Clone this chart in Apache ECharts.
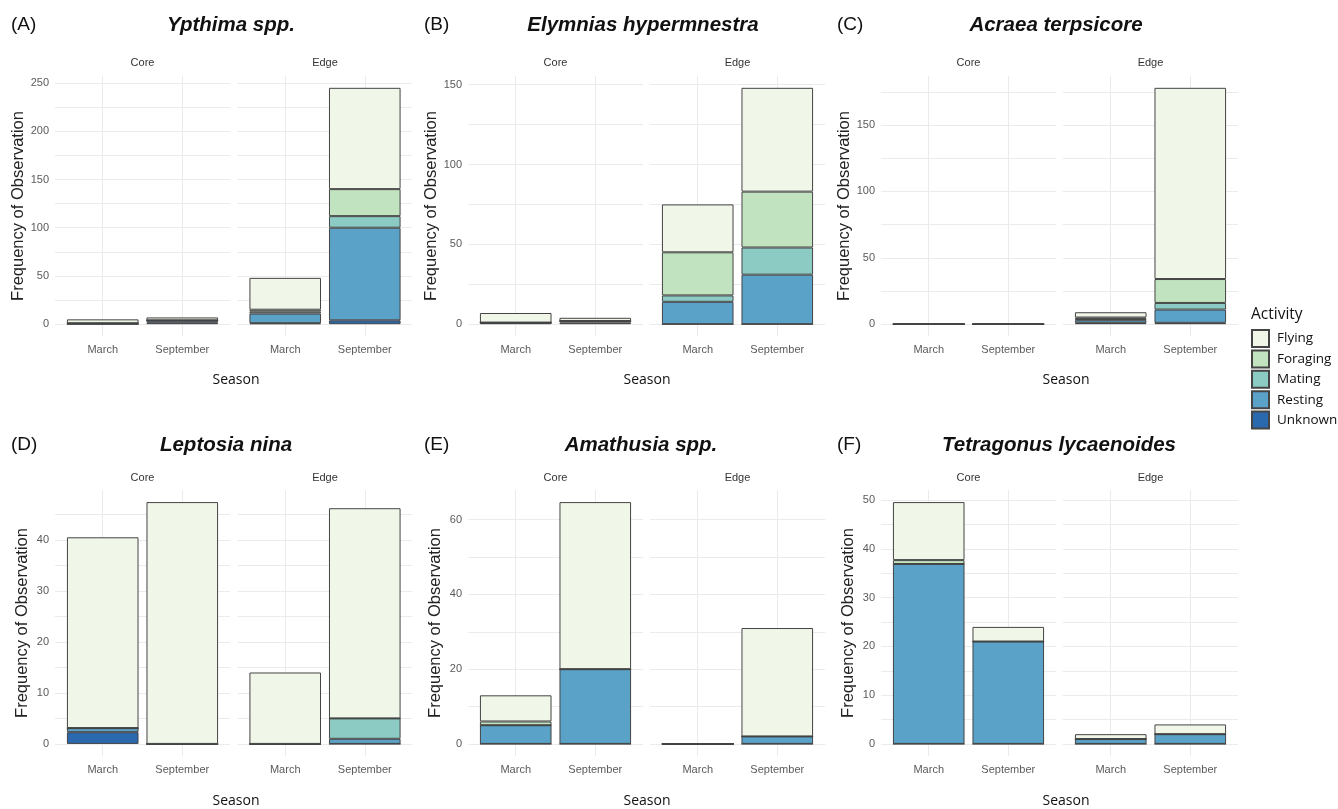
<!DOCTYPE html>
<html>
<head>
<meta charset="utf-8">
<title>Butterfly activity by season and habitat</title>
<script src="https://cdn.jsdelivr.net/npm/echarts@6/dist/echarts.min.js"></script>
<style>
  html, body { margin: 0; padding: 0; background: #fff; }
  #chart { width: 1338px; height: 809px; }
</style>
</head>
<body>
<div id="chart"></div>
<script>
var activities = ['Flying', 'Foraging', 'Mating', 'Resting', 'Unknown'];
var seasons = ['March', 'September'];
var habitats = ['Core', 'Edge'];
var speciesNames = ['Ypthima spp.', 'Elymnias hypermnestra', 'Acraea terpsicore',
    'Leptosia nina', 'Amathusia spp.', 'Tetragonus lycaenoides'];
var panelLetters = ['(A)', '(B)', '(C)', '(D)', '(E)', '(F)'];

// rows follow activities, columns: Core-March, Core-September, Edge-March, Edge-September
var ypthimaCounts = [
    [4, 3, 33, 105],
    [0, 0, 2, 28],
    [0, 0, 2, 12],
    [1, 2, 10, 96],
    [0, 2, 1, 4]
];
var elymniasCounts = [
    [6, 2, 30, 65],
    [0, 0, 27, 35],
    [0, 0, 4, 17],
    [0, 1, 14, 31],
    [1, 1, 0, 0]
];
var acraeaCounts = [
    [0, 0, 4, 144],
    [0, 0, 1, 18],
    [0, 0, 1, 5],
    [0, 0, 2, 10],
    [0, 0, 1, 1]
];
var leptosiaCounts = [
    [37.4, 47.4, 14, 41.2],
    [0, 0, 0, 0],
    [0, 0, 0, 4],
    [0.8, 0, 0, 1],
    [2.3, 0, 0, 0]
];
var amathusiaCounts = [
    [7, 44.7, 0, 29],
    [1, 0, 0, 0],
    [0, 0, 0, 0],
    [5, 20, 0, 2],
    [0, 0, 0, 0]
];
var tetragonusCounts = [
    [11.9, 3, 1, 2],
    [0.8, 0, 0, 0],
    [0, 0, 0, 0],
    [36.9, 21, 1, 2],
    [0, 0, 0, 0]
];
var allCounts = [ypthimaCounts, elymniasCounts, acraeaCounts, leptosiaCounts, amathusiaCounts, tetragonusCounts];

// y tick labels of each panel and the minor grid lines between them
var yMajorTicks = [
    [0, 50, 100, 150, 200, 250],
    [0, 50, 100, 150],
    [0, 50, 100, 150],
    [0, 10, 20, 30, 40],
    [0, 20, 40, 60],
    [0, 10, 20, 30, 40, 50]
];
var yMinorTicks = [
    [25, 75, 125, 175, 225],
    [25, 75, 125],
    [25, 75, 125, 175],
    [5, 15, 25, 35, 45],
    [10, 30, 50],
    [5, 15, 25, 35, 45]
];

var activityColors = ['#F0F7E8', '#C2E3BF', '#8BCBC3', '#5AA2C8', '#2B69AE'];

// layout
var facetLeft = [[55, 237.5], [468, 650], [881, 1063]];
var facetWidth = 175;
var rowTop = [76, 490];
var rowHeight = [260, 266];
var letterX = [11, 424, 837];
var titleX = [231, 643, 1056, 226, 641, 1059];
var titleY = [25, 445];
var stripY = [63, 478];
var seasonX = [236, 647, 1066];
var seasonY = [380, 801];
var barWidth = 0.9 * facetWidth / 2.2;
var baseFont = '"Liberation Sans", Arial, sans-serif';

function stackMax(counts) {
    var m = 0;
    for (var j = 0; j < 4; j++) {
        var s = 0;
        for (var a = 0; a < counts.length; a++) s += counts[a][j];
        if (s > m) m = s;
    }
    return m;
}

var grids = [], xAxes = [], yAxes = [], series = [], graphics = [];

for (var p = 0; p < 6; p++) {
    var row = Math.floor(p / 3), col = p % 3;
    var counts = allCounts[p];
    var M = stackMax(counts);

    graphics.push({
        type: 'text', x: letterX[col], y: titleY[row],
        style: { text: panelLetters[p], font: '19px ' + baseFont, fill: '#111', align: 'left', verticalAlign: 'middle' }
    });
    graphics.push({
        type: 'text', x: titleX[p], y: titleY[row],
        style: { text: speciesNames[p], font: 'italic bold 20.5px ' + baseFont, fill: '#111', align: 'center', verticalAlign: 'middle' }
    });
    graphics.push({
        type: 'text', x: seasonX[col], y: seasonY[row],
        style: { text: 'Season', font: '14px "Open Sans", sans-serif', fill: '#111', align: 'center', verticalAlign: 'middle' }
    });

    for (var h = 0; h < 2; h++) {
        var g = grids.length;
        var left = facetLeft[col][h];
        grids.push({ left: left, top: rowTop[row], width: facetWidth, height: rowHeight[row] });

        graphics.push({
            type: 'text', x: left + facetWidth / 2, y: stripY[row],
            style: { text: habitats[h], font: '11px ' + baseFont, fill: '#333', align: 'center', verticalAlign: 'middle' }
        });

        xAxes.push({
            gridIndex: g, type: 'value', min: 0.4, max: 2.6,
            axisLine: { show: false },
            axisTick: { show: false, customValues: [1, 2] },
            axisLabel: {
                customValues: [1, 2], margin: 8, color: '#5a5a5a', fontSize: 11, fontFamily: baseFont,
                formatter: function (v) { return seasons[Math.round(v) - 1]; }
            },
            splitLine: { show: true, lineStyle: { color: '#ebebeb', width: 1 } }
        });

        yAxes.push({
            gridIndex: g, type: 'value', min: -0.05 * M, max: 1.05 * M,
            axisLine: { show: false },
            axisTick: { show: false, customValues: yMajorTicks[p].concat(yMinorTicks[p]) },
            axisLabel: {
                show: h === 0, customValues: yMajorTicks[p], margin: 6,
                color: '#5a5a5a', fontSize: 11, fontFamily: baseFont
            },
            splitLine: { show: true, lineStyle: { color: '#ebebeb', width: 1 } },
            name: h === 0 ? 'Frequency of Observation' : '',
            nameLocation: 'middle', nameGap: 24,
            nameTextStyle: { color: '#222', fontSize: 16.5, fontFamily: baseFont }
        });

        // bottom of the stack first, Flying ends on top
        for (var a = activities.length - 1; a >= 0; a--) {
            series.push({
                type: 'bar', name: activities[a],
                xAxisIndex: g, yAxisIndex: g,
                stack: 'facet' + g,
                barWidth: barWidth,
                // value first so that the stack runs along y
                encode: { x: 1, y: 0 },
                data: [[counts[a][h * 2], 1], [counts[a][h * 2 + 1], 2]],
                itemStyle: { color: activityColors[a], borderColor: '#444', borderWidth: 1 },
                emphasis: { disabled: true },
                animation: false
            });
        }
    }
}

graphics.push({
    type: 'text', x: 1251, y: 315,
    style: { text: 'Activity', font: '15.5px "Open Sans", sans-serif', fill: '#111', align: 'left', verticalAlign: 'middle' }
});

var chart = echarts.init(document.getElementById('chart'));
chart.setOption({
    animation: false,
    backgroundColor: '#fff',
    grid: grids,
    xAxis: xAxes,
    yAxis: yAxes,
    series: series,
    legend: {
        data: activities,
        orient: 'vertical',
        left: 1251, top: 329,
        padding: 0,
        itemWidth: 17, itemHeight: 17, itemGap: 1.4,
        icon: 'rect',
        selectedMode: false,
        textStyle: { fontFamily: '"Open Sans", sans-serif', fontSize: 13.5, color: '#111', padding: [0, 0, 0, 3] }
    },
    graphic: graphics
});
</script>
</body>
</html>
